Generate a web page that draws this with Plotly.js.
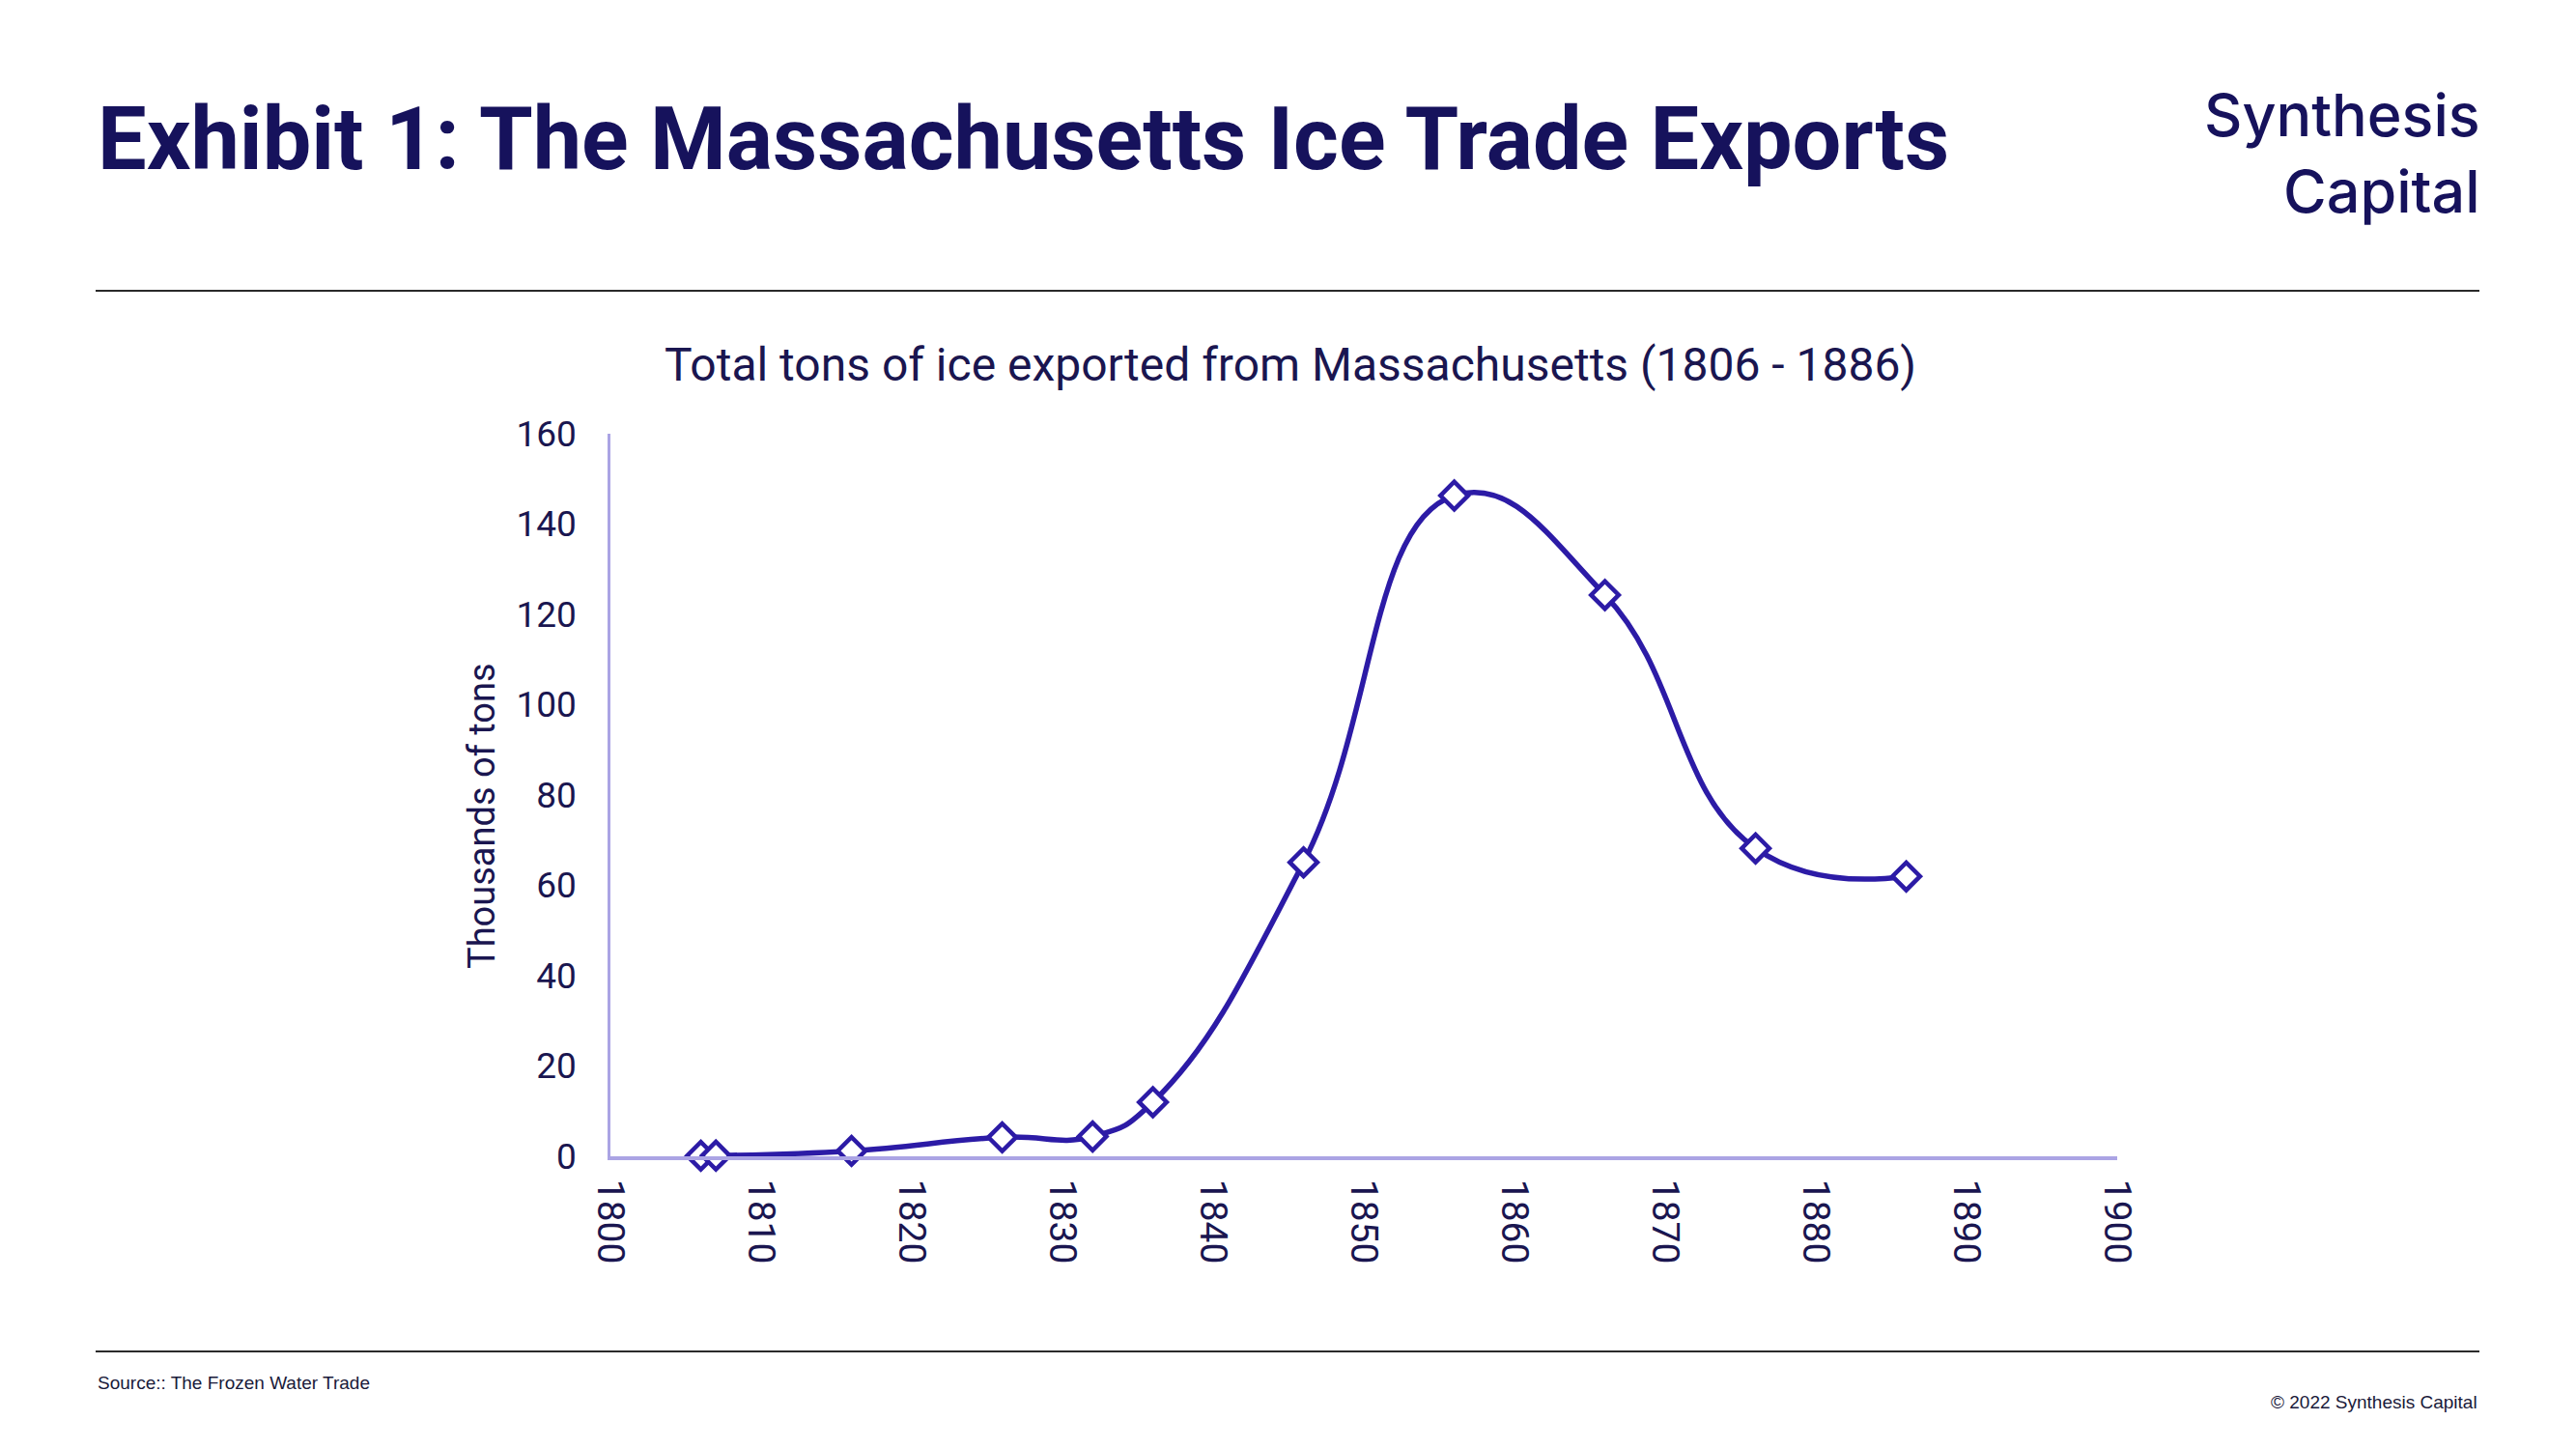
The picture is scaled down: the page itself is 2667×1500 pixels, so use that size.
<!DOCTYPE html>
<html>
<head>
<meta charset="utf-8">
<script src="https://cdn.plot.ly/plotly-3.0.1.min.js"></script>
<style>
  html, body { margin: 0; padding: 0; background: #ffffff; }
  #chart { width: 2667px; height: 1500px; }
</style>
</head>
<body>
<div id="chart"></div>
<script>
// ---- data ----
const years = [1806, 1807, 1816, 1826, 1832, 1836, 1846, 1856, 1866, 1876, 1886];
const tonsThousands = [0.13, 0.15, 1.2, 4.2, 4.4, 12.0, 65.1, 146.3, 124.3, 68.2, 62.0];
const xTickValues = [1800, 1810, 1820, 1830, 1840, 1850, 1860, 1870, 1880, 1890, 1900];
const yTickValues = [0, 20, 40, 60, 80, 100, 120, 140, 160];

const mainTitle = "Exhibit 1: The Massachusetts Ice Trade Exports";
const chartTitle = "Total tons of ice exported from Massachusetts (1806 - 1886)";
const yTitle = "Thousands of tons";
const sourceText = "Source:: The Frozen Water Trade";
const copyrightText = "\u00A9 2022 Synthesis Capital";
const logoLines = ["Synthesis", "Capital"];

// ---- layout geometry (pixels) ----
const W = 2667, H = 1500;
const PL = 632, PR = 2192, PT = 449, PB = 1197;
function px(x) { return (x - PL) / (PR - PL); }
function py(y) { return (PB - y) / (PB - PT); }

const navy = "#16125c";
const textNavy = "#1a1650";
const lineBlue = "#2c1ba6";
const axisLav = "#aba4e4";
const fam = "Roboto, 'Liberation Sans', sans-serif";

const trace = {
  type: "scatter",
  mode: "lines+markers",
  x: years,
  y: tonsThousands,
  line: { color: lineBlue, width: 5.5, shape: "spline", smoothing: 1.3 },
  marker: { symbol: "diamond", size: 22, color: "#ffffff", line: { color: lineBlue, width: 4.5 } },
  cliponaxis: false,
  hoverinfo: "x+y"
};

const layout = {
  width: W, height: H,
  paper_bgcolor: "#ffffff",
  plot_bgcolor: "#ffffff",
  showlegend: false,
  margin: { l: PL, r: W - PR, t: PT, b: H - PB, pad: 0 },
  font: { family: fam, color: textNavy },
  xaxis: {
    range: [1800, 1900],
    tickvals: xTickValues,
    ticktext: xTickValues.map(String),
    tickangle: 90,
    ticks: "",
    showgrid: false,
    zeroline: false,
    showline: true,
    linecolor: axisLav,
    linewidth: 4,
    ticklabelstandoff: 12,
    tickfont: { family: fam, size: 39, color: textNavy },
    automargin: false,
    fixedrange: true
  },
  yaxis: {
    range: [0, 160],
    tickvals: yTickValues,
    ticktext: yTickValues.map(String),
    ticks: "",
    showgrid: false,
    zeroline: false,
    showline: true,
    linecolor: axisLav,
    linewidth: 2.5,
    ticklabelstandoff: 25,
    tickfont: { family: fam, size: 37, color: textNavy },
    automargin: false,
    fixedrange: true
  },
  shapes: [
    { type: "line", xref: "paper", yref: "paper", x0: px(99), x1: px(2567), y0: py(301), y1: py(301),
      line: { color: "#2a2a2a", width: 2 } },
    { type: "line", xref: "paper", yref: "paper", x0: px(99), x1: px(2567), y0: py(1399), y1: py(1399),
      line: { color: "#2a2a2a", width: 2 } }
  ],
  annotations: [
    { text: mainTitle, xref: "paper", yref: "paper", x: px(99), y: py(144), xanchor: "left", yanchor: "middle",
      showarrow: false, font: { family: fam, size: 90, weight: 700, color: navy } },
    { text: chartTitle, xref: "paper", yref: "paper", x: px(1336), y: py(377), xanchor: "center", yanchor: "middle",
      showarrow: false, font: { family: fam, size: 48, color: textNavy } },
    { text: yTitle, xref: "paper", yref: "paper", x: px(499), y: py(845), xanchor: "center", yanchor: "middle",
      textangle: -90, showarrow: false, font: { family: fam, size: 38, color: textNavy } },
    { text: logoLines.join("<br>"), xref: "paper", yref: "paper", x: px(2570), y: py(158), xanchor: "right", yanchor: "middle",
      align: "right", showarrow: false, font: { family: "Inter, Roboto, sans-serif", size: 61, weight: 500, color: navy } },
    { text: sourceText, xref: "paper", yref: "paper", x: px(99), y: py(1431), xanchor: "left", yanchor: "middle",
      showarrow: false, font: { family: "'Liberation Sans', Arial, sans-serif", size: 19, color: "#1a1a3a" } },
    { text: copyrightText, xref: "paper", yref: "paper", x: px(2567), y: py(1451), xanchor: "right", yanchor: "middle",
      showarrow: false, font: { family: "'Liberation Sans', Arial, sans-serif", size: 19, color: "#1a1a3a" } }
  ]
};

Plotly.newPlot("chart", [trace], layout, { displayModeBar: false, responsive: false });
</script>
</body>
</html>
